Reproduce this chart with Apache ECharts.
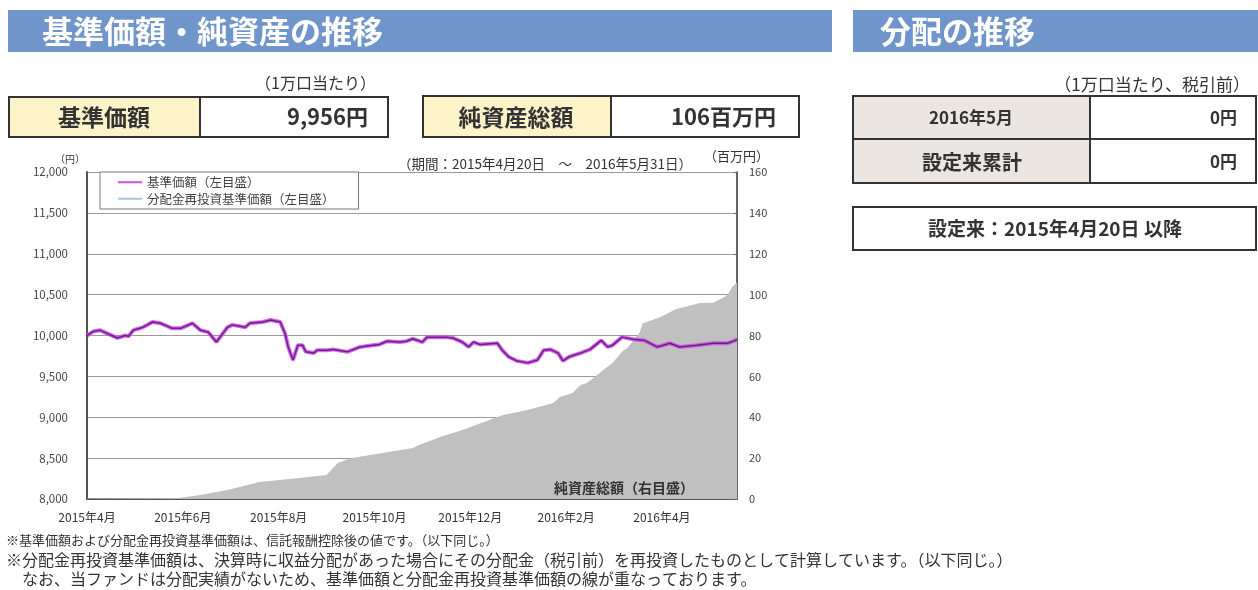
<!DOCTYPE html>
<html>
<head>
<meta charset="utf-8">
<script src="https://cdn.jsdelivr.net/npm/echarts@6/dist/echarts.min.js"></script>
<style>
  html, body { margin: 0; padding: 0; background: #fff; }
  #chart { width: 1258px; height: 590px; }
</style>
</head>
<body>
<div id="chart"></div>
<script>
// 基準価額（左目盛）: 日付と値
var navDates = [
  '2015-04-20','2015-04-24','2015-04-28','2015-05-09','2015-05-14','2015-05-16','2015-05-19','2015-05-25',
  '2015-05-31','2015-06-05','2015-06-12','2015-06-18','2015-06-25','2015-06-30','2015-07-05','2015-07-10',
  '2015-07-17','2015-07-20','2015-07-28','2015-07-31','2015-08-08','2015-08-13','2015-08-19','2015-08-22',
  '2015-08-24','2015-08-27','2015-08-30','2015-09-02','2015-09-04','2015-09-09','2015-09-11','2015-09-17',
  '2015-09-21','2015-09-30','2015-10-08','2015-10-16','2015-10-20','2015-10-25','2015-11-02','2015-11-06',
  '2015-11-10','2015-11-16','2015-11-19','2015-12-01','2015-12-05','2015-12-11','2015-12-15','2015-12-18',
  '2015-12-22','2016-01-02','2016-01-05','2016-01-09','2016-01-14','2016-01-21','2016-01-27','2016-01-31',
  '2016-02-04','2016-02-09','2016-02-12','2016-02-16','2016-02-23','2016-02-29','2016-03-07','2016-03-11',
  '2016-03-14','2016-03-20','2016-03-27','2016-04-03','2016-04-11','2016-04-19','2016-04-25','2016-05-06',
  '2016-05-16','2016-05-25','2016-05-30','2016-05-31'
];
var navValues = [
  10000,10050,10065,9970,10000,9990,10065,10100,
  10165,10150,10090,10090,10150,10065,10040,9920,
  10100,10130,10100,10150,10165,10190,10165,10025,
  9860,9700,9880,9880,9800,9785,9820,9820,
  9830,9800,9860,9880,9890,9930,9920,9930,
  9960,9920,9980,9980,9970,9920,9860,9920,
  9890,9905,9820,9740,9690,9665,9700,9820,
  9830,9785,9690,9740,9785,9830,9940,9860,
  9880,9980,9955,9940,9860,9905,9860,9880,
  9905,9905,9940,9956
];
// 純資産総額（右目盛、百万円）
var assetDates = [
  '2015-04-20','2015-06-16','2015-06-30','2015-07-17','2015-08-06','2015-08-31','2015-09-17','2015-09-24',
  '2015-10-02','2015-10-22','2015-11-10','2015-11-14','2015-11-27','2015-12-11','2016-01-05','2016-01-21',
  '2016-02-06','2016-02-10','2016-02-18','2016-02-23','2016-02-27','2016-03-06','2016-03-08','2016-03-14',
  '2016-03-21','2016-03-23','2016-03-31','2016-04-02','2016-04-08','2016-04-13','2016-04-23','2016-05-08',
  '2016-05-16','2016-05-22','2016-05-25','2016-05-28','2016-05-31'
];
var assetValues = [
  0.3,0.5,2,4.4,8.3,10.3,11.7,17.6,
  20,22.5,25,26.4,30.3,33.8,41,43.5,
  47,49.9,51.9,55.8,56.7,61.6,63,66.5,
  72.9,73.5,81.5,86,87.6,89,93,95.9,
  96,98.3,99.8,103.7,106
];
var xTickLabels = ['2015年4月','2015年6月','2015年8月','2015年10月','2015年12月','2016年2月','2016年4月'];
var leftTicks = { min: 8000, max: 12000, step: 500 };
var rightTicks = { min: 0, max: 160, step: 20 };

var startDay = Date.UTC(2015, 3, 20);
function dayOf(s) {
  var p = s.split('-');
  return (Date.UTC(+p[0], +p[1] - 1, +p[2]) - startDay) / 86400000;
}
var navData = navDates.map(function (d, i) { return [dayOf(d), navValues[i]]; });
var assetData = assetDates.map(function (d, i) { return [dayOf(d), assetValues[i]]; });
var lastDay = dayOf('2016-05-31');

var jp = '"Noto Sans CJK JP", sans-serif';
var chart = echarts.init(document.getElementById('chart'));

function txt(x, y, text, size, opt) {
  opt = opt || {};
  return {
    type: 'text', z: 100,
    style: {
      x: x, y: y, text: text,
      font: (opt.weight || 'normal') + ' ' + size + 'px ' + jp,
      fill: opt.color || '#333',
      align: opt.align || 'left', textAlign: opt.align || 'left',
      verticalAlign: 'middle', textVerticalAlign: 'middle'
    }
  };
}
function box(x, y, w, h, fill, lw) {
  return {
    type: 'rect', z: 90,
    shape: { x: x, y: y, width: w, height: h },
    style: { fill: fill || '#fff', stroke: '#333', lineWidth: lw || 2 }
  };
}

var graphics = [
  // 見出し
  { type: 'rect', z: 80, shape: { x: 8, y: 10, width: 824, height: 42 }, style: { fill: '#6f95ca' } },
  txt(42, 31, '基準価額・純資産の推移', 31, { color: '#fff', weight: 'bold' }),
  { type: 'rect', z: 80, shape: { x: 853, y: 10, width: 405, height: 42 }, style: { fill: '#6f95ca' } },
  txt(880, 31, '分配の推移', 31, { color: '#fff', weight: 'bold' }),

  // 基準価額ボックス
  txt(376, 83, '（1万口当たり）', 16, { align: 'right' }),
  box(9, 97, 191, 40, '#fcf3c8'),
  box(200, 97, 188, 40, '#fff'),
  txt(104, 117, '基準価額', 23, { align: 'center', weight: 'bold' }),
  txt(368, 117, '9,956円', 22, { align: 'right', weight: 'bold' }),

  // 純資産総額ボックス
  box(423, 96, 188, 41, '#fcf3c8'),
  box(611, 96, 188, 41, '#fff'),
  txt(516, 117, '純資産総額', 23, { align: 'center', weight: 'bold' }),
  txt(776, 117, '106百万円', 22, { align: 'right', weight: 'bold' }),

  // 分配テーブル
  txt(1250, 85, '（1万口当たり、税引前）', 17, { align: 'right' }),
  box(853, 96, 237, 43, '#ebe6e1'),
  box(1090, 96, 166, 43, '#fff'),
  box(853, 139, 237, 44, '#ebe6e1'),
  box(1090, 139, 166, 44, '#fff'),
  txt(971, 118, '2016年5月', 17, { align: 'center', weight: 'bold' }),
  txt(1237, 118, '0円', 17, { align: 'right', weight: 'bold' }),
  txt(972, 162, '設定来累計', 20, { align: 'center', weight: 'bold' }),
  txt(1237, 162, '0円', 17, { align: 'right', weight: 'bold' }),
  box(853, 207, 403, 43, '#fff'),
  txt(1055, 229, '設定来：2015年4月20日 以降', 19, { align: 'center', weight: 'bold' }),

  // チャート周りの注記
  txt(55, 159, '（円）', 10),
  txt(398, 164, '（期間：2015年4月20日　～　2016年5月31日）', 13.5),
  txt(704, 156, '（百万円）', 13),
  txt(694, 488, '純資産総額（右目盛）', 14, { align: 'right', weight: 'bold' }),

  // 脚注
  txt(6, 540, '※基準価額および分配金再投資基準価額は、信託報酬控除後の値です。（以下同じ。）', 13),
  txt(6, 560, '※分配金再投資基準価額は、決算時に収益分配があった場合にその分配金（税引前）を再投資したものとして計算しています。（以下同じ。）', 16),
  txt(6, 579, '　なお、当ファンドは分配実績がないため、基準価額と分配金再投資基準価額の線が重なっております。', 16)
];

chart.setOption({
  animation: false,
  textStyle: { fontFamily: jp },
  grid: { left: 87, right: 521, top: 172, bottom: 91 },
  legend: {
    orient: 'vertical',
    left: 100, top: 172,
    padding: [4, 24, 4, 18],
    itemGap: 4,
    itemWidth: 24, itemHeight: 2,
    icon: 'rect',
    borderColor: '#777', borderWidth: 1,
    backgroundColor: '#fff',
    textStyle: { fontSize: 12.5, color: '#444' },
    data: [
      { name: '基準価額（左目盛）', itemStyle: { color: '#d24de0' } },
      { name: '分配金再投資基準価額（左目盛）', itemStyle: { color: '#a9c3e2' } }
    ]
  },
  xAxis: {
    type: 'value',
    min: 0, max: lastDay, interval: 60,
    axisLine: { lineStyle: { color: '#555', width: 2 } },
    axisTick: { show: false },
    splitLine: { show: false },
    axisLabel: {
      showMaxLabel: false,
      fontSize: 12, color: '#333', margin: 12,
      formatter: function (v) {
        var i = Math.round(v / 60);
        return v % 60 === 0 && xTickLabels[i] ? xTickLabels[i] : '';
      }
    }
  },
  yAxis: [
    {
      type: 'value',
      min: leftTicks.min, max: leftTicks.max, interval: leftTicks.step,
      axisLine: { show: true, lineStyle: { color: '#555', width: 2 } },
      axisTick: { show: false },
      splitLine: { lineStyle: { color: '#999', width: 1 } },
      axisLabel: {
        fontSize: 11.5, color: '#444', margin: 19,
        formatter: function (v) { return v.toLocaleString('en-US'); }
      }
    },
    {
      type: 'value',
      min: rightTicks.min, max: rightTicks.max, interval: rightTicks.step,
      axisLine: { show: true, lineStyle: { color: '#333', width: 1.5 } },
      axisTick: { show: true, inside: true, length: 3, lineStyle: { color: '#666' } },
      splitLine: { show: false },
      axisLabel: { fontSize: 11, color: '#444', margin: 12 }
    }
  ],
  series: [
    {
      name: '純資産総額（右目盛）',
      type: 'line',
      yAxisIndex: 1,
      data: assetData,
      symbol: 'none',
      lineStyle: { width: 0 },
      areaStyle: { color: '#c0c0c0', opacity: 1 },
      z: 1
    },
    {
      name: '基準価額（左目盛）',
      type: 'line',
      data: navData,
      symbol: 'none',
      lineStyle: { color: '#d04ee0', width: 4, opacity: 0.85 },
      itemStyle: { color: '#d24de0' },
      z: 3
    },
    {
      name: '分配金再投資基準価額（左目盛）',
      type: 'line',
      data: navData,
      symbol: 'none',
      lineStyle: { color: '#6a1f8e', width: 1.5 },
      itemStyle: { color: '#a9c3e2' },
      z: 4
    }
  ],
  graphic: graphics
});
</script>
</body>
</html>
